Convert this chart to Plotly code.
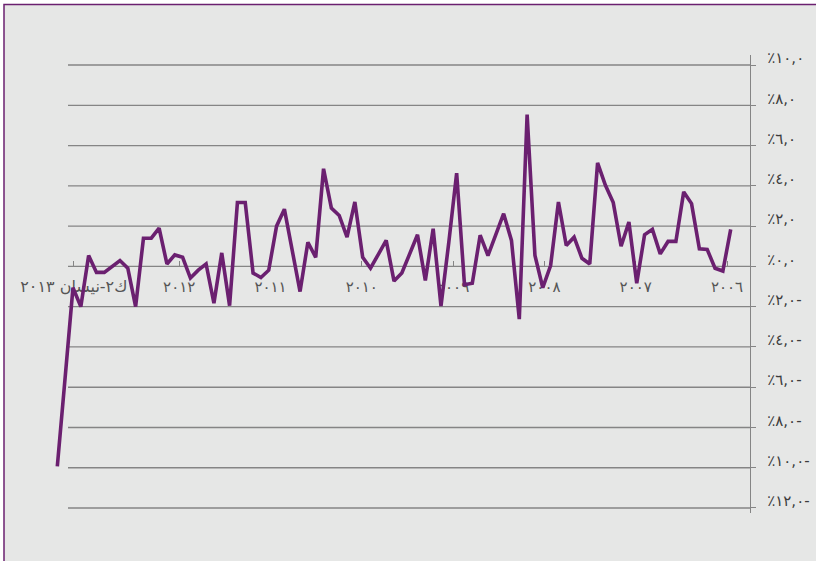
import plotly.graph_objects as go

# Monthly percentage change, January 2006 onwards (index 0 = Jan 2006)
months = list(range(87))
change_pct = [
    1.84, -0.23, -0.09, 0.84, 0.87, 3.12, 3.70, 1.24, 1.24, 0.62, 1.84, 1.57,
    -0.84, 2.20, 1.00, 3.17, 4.03, 5.14, 0.12, 0.40, 1.45, 1.04, 3.20, 0.04,
    -1.06, 0.54, 7.54, -2.62, 1.29, 2.62, 1.58, 0.54, 1.55, -0.84, -0.91, 4.63,
    1.20, -1.97, 1.87, -0.70, 1.57, 0.59, -0.33, -0.73, 1.29, 0.60, -0.09, 0.45,
    3.20, 1.45, 2.53, 2.90, 4.85, 0.45, 1.20, -1.25, 0.70, 2.84, 2.00, -0.19,
    -0.55, -0.33, 3.17, 3.17, -1.95, 0.67, -1.83, 0.12, -0.19, -0.58, 0.45, 0.57,
    0.12, 1.90, 1.40, 1.40, -2.00, -0.09, 0.29, 0.00, -0.30, -0.30, 0.54, -2.00,
    -1.06, -5.51, -9.93,
]

# Period labels along the zero line (right to left)
period_labels = ["٢٠٠٦", "٢٠٠٧", "٢٠٠٨", "٢٠٠٩", "٢٠١٠", "٢٠١١", "٢٠١٢", "ك٢-نيسان ٢٠١٣"]

# Value axis ticks and their Arabic labels
y_ticks = [10, 8, 6, 4, 2, 0, -2, -4, -6, -8, -10, -12]
y_tick_text = ["٪١٠,٠", "٪٨,٠", "٪٦,٠", "٪٤,٠", "٪٢,٠", "٪٠,٠",
               "٪٢,٠-", "٪٤,٠-", "٪٦,٠-", "٪٨,٠-", "٪١٠,٠-", "٪١٢,٠-"]

LINE = "#6B2070"
GRID = "#858585"
BG = "#E6E7E6"
FONT = "DejaVu Sans"

W, H = 816, 561
ML, MR, MT, MB = 50, 66, 55, 48
plot_w = W - ML - MR
plot_h = H - MT - MB
y_min, y_max = -12.25, 10.5

# horizontal pixel scale: one month step, and the spacing of the period labels
PX_PER_MONTH = 7.83
FIRST_PX = 730.7
LABEL_STEP_PX = 91.3
LABEL_FIRST_PX = 727.0
label_pos = [(FIRST_PX - LABEL_FIRST_PX + k * LABEL_STEP_PX) / PX_PER_MONTH
             for k in range(len(period_labels))]
# the long final label is set a little larger and nudged left
label_pos[-1] += 1.8
tick_text = period_labels[:-1] + [
    '<span style="font-size:16px">' + period_labels[-1] + "</span>"
]

fig = go.Figure()
fig.add_trace(go.Scatter(
    x=months, y=change_pct, mode="lines",
    line=dict(color=LINE, width=3.6),
    hoverinfo="skip", showlegend=False,
))

shapes = []
# framed panel background
shapes.append(dict(
    type="rect", xref="paper", yref="paper", layer="below",
    x0=(4 - ML) / plot_w, x1=(W + 20 - ML) / plot_w,
    y0=-(H + 20 - MT - plot_h) / plot_h, y1=(plot_h + MT - 4.5) / plot_h,
    fillcolor=BG, line=dict(color=LINE, width=1.5),
))
# horizontal grid lines, starting a little right of the panel edge
grid_x0 = (68 - ML) / plot_w
for v in y_ticks:
    shapes.append(dict(
        type="line", xref="paper", yref="y", layer="below",
        x0=grid_x0, x1=1, y0=v, y1=v,
        line=dict(color=GRID, width=1.4),
    ))

zero_pos = (0 - y_min) / (y_max - y_min)

fig.update_layout(
    width=W, height=H,
    margin=dict(l=ML, r=MR, t=MT, b=MB, pad=0, autoexpand=False),
    paper_bgcolor="white",
    plot_bgcolor="rgba(0,0,0,0)",
    shapes=shapes,
    showlegend=False,
    xaxis=dict(
        range=[86 + (FIRST_PX - 86 * PX_PER_MONTH - ML) / PX_PER_MONTH,
               -(W - MR - FIRST_PX) / PX_PER_MONTH],
        anchor="free", position=zero_pos, side="bottom",
        tickmode="array", tickvals=label_pos, ticktext=tick_text,
        ticks="inside", ticklen=5, tickcolor=GRID, tickwidth=1,
        showgrid=False, zeroline=False, showline=False,
        tickfont=dict(family=FONT, size=15, color="#555555"),
        ticklabelstandoff=10,
        automargin=False,
        layer="below traces",
    ),
    yaxis=dict(
        side="right", range=[y_min, y_max],
        tickmode="array", tickvals=y_ticks, ticktext=y_tick_text,
        showgrid=False, zeroline=False,
        showline=True, linecolor=GRID, linewidth=1.4,
        ticks="outside", ticklen=5, tickcolor=GRID, tickwidth=1.4,
        tickfont=dict(family=FONT, size=15, color="#3C3C3C"),
        ticklabelstandoff=8, ticklabelshift=-7,
        automargin=False,
        layer="below traces",
    ),
)

fig.write_html("out.html")
